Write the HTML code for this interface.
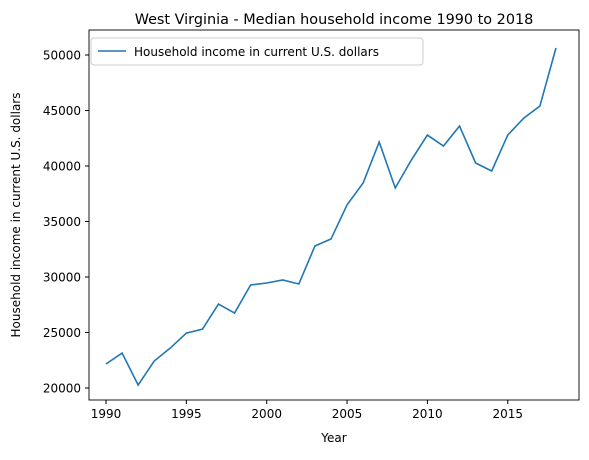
<!DOCTYPE html>
<html><head><meta charset="utf-8"><style>
body{margin:0;background:#fff;}
svg text{font-family:"DejaVu Sans","Liberation Sans",sans-serif;fill:#000;}
</style></head><body>
<svg id="chart" width="589" height="455" xmlns="http://www.w3.org/2000/svg">
<text x="334" y="24" font-size="14.4" text-anchor="middle">West Virginia - Median household income 1990 to 2018</text>
<g id="xticks"></g><g id="yticks"></g>
<path id="line" fill="none" stroke="#1f77b4" stroke-width="1.6"/>
<rect x="89" y="30" width="490" height="370" fill="none" stroke="#000" stroke-width="0.9"/>
<text x="334" y="442" font-size="12" text-anchor="middle">Year</text>
<text transform="translate(20,215) rotate(-90)" font-size="12" text-anchor="middle">Household income in current U.S. dollars</text>
<g>
<rect x="91" y="38" width="332" height="27" rx="3" fill="#fff" stroke="#ccc"/>
<line x1="98" y1="51" x2="126" y2="51" stroke="#1f77b4" stroke-width="1.6"/>
<text x="134" y="56" font-size="12">Household income in current U.S. dollars</text>
</g>
</svg>
<script>
const years=[1990,1991,1992,1993,1994,1995,1996,1997,1998,1999,2000,2001,2002,2003,2004,2005,2006,2007,2008,2009,2010,2011,2012,2013,2014,2015,2016,2017,2018];
const incomes=[22160,23150,20270,22430,23600,24950,25300,27560,26750,29280,29460,29730,29370,32790,33420,36490,38470,42160,38020,40540,42790,41800,43600,40270,39550,42790,44320,45400,50630];
const xTicks=[1990,1995,2000,2005,2010,2015];
const yTicks=[20000,25000,30000,35000,40000,45000,50000];
const NS="http://www.w3.org/2000/svg";
const xs=v=>106+(v-1990)*16.07;
const ys=v=>388-(v-20000)*0.0111;
document.getElementById('line').setAttribute('d',years.map((y,i)=>(i?'L':'M')+xs(y)+','+ys(incomes[i])).join(''));
const xg=document.getElementById('xticks'),yg=document.getElementById('yticks');
xTicks.forEach(t=>{
 const l=document.createElementNS(NS,'line');
 l.setAttribute('x1',xs(t));l.setAttribute('x2',xs(t));l.setAttribute('y1',400);l.setAttribute('y2',404);l.setAttribute('stroke','#000');
 
 
 xg.appendChild(l);
 const tx=document.createElementNS(NS,'text');
 tx.setAttribute('x',xs(t));tx.setAttribute('y',418);tx.setAttribute('font-size','12');tx.setAttribute('text-anchor','middle');tx.textContent=t;
 
 
 xg.appendChild(tx);
});
yTicks.forEach(t=>{
 const l=document.createElementNS(NS,'line');
 l.setAttribute('x1',85);l.setAttribute('x2',89);l.setAttribute('y1',ys(t));l.setAttribute('y2',ys(t));l.setAttribute('stroke','#000');
 
 
 yg.appendChild(l);
 const tx=document.createElementNS(NS,'text');
 tx.setAttribute('x',81);tx.setAttribute('y',ys(t)+4.5);tx.setAttribute('font-size','12');tx.setAttribute('text-anchor','end');tx.textContent=t;
 
 
 yg.appendChild(tx);
});
</script>
</body></html>
